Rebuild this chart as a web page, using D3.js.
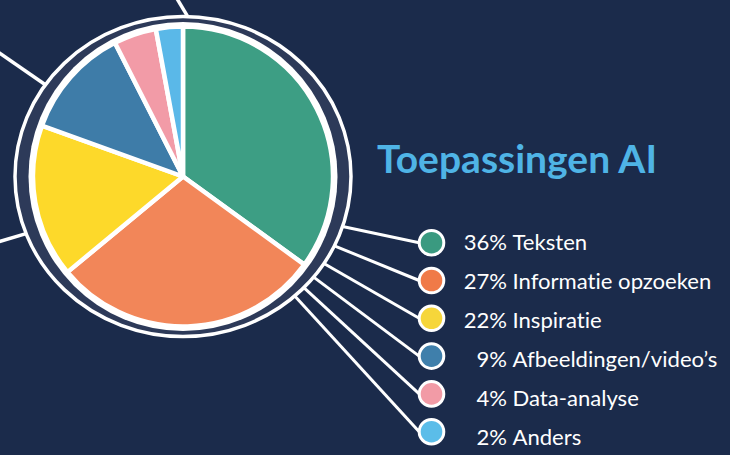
<!DOCTYPE html>
<html>
<head>
<meta charset="utf-8">
<script src="https://cdn.jsdelivr.net/npm/d3@7/dist/d3.min.js"></script>
<style>
  html, body { margin: 0; padding: 0; background: #1b2b4b; }
  svg { display: block; }
  text { font-family: Lato, 'Open Sans', sans-serif; font-variant-ligatures: none; font-feature-settings: "liga" 0, "clig" 0; }
</style>
</head>
<body>
<div id="chart"></div>
<script>
// data
const categories = ['Teksten', 'Informatie opzoeken', 'Inspiratie', 'Afbeeldingen/video’s', 'Data-analyse', 'Anders'];
const percentLabels = [36, 27, 22, 9, 4, 2];
// wedge sizes as they are drawn in the pie (not quite the printed percentages)
const wedgeShares = [35, 29, 16.5, 12, 4.6, 2.9];
const sliceColors = ['#3d9e84', '#f28659', '#fdd92a', '#3e7ca8', '#f29ba7', '#5ab8e8'];
const dotColors = ['#3a9a80', '#f07a48', '#f6d63a', '#3f7fab', '#f29ba6', '#5bbde9'];
const title = 'Toepassingen AI';

const width = 730;
const height = 455;
const cx = 183;
const cy = 176.5;
const pieR = 150;
const ringRx = 168;
const ringRy = 160;

// where the legend connectors leave the ring (degrees below horizontal)
const connectorAngles = [17.4, 24.6, 31.7, 37.6, 42.6, 46.9];

const svg = d3.select('#chart')
  .append('svg')
  .attr('width', width)
  .attr('height', height);

svg.append('rect')
  .attr('width', width)
  .attr('height', height)
  .attr('fill', '#1b2b4b');

const ringPoint = (deg) => {
  const a = deg * Math.PI / 180;
  const r = ringRx * ringRy / Math.sqrt(Math.pow(ringRy * Math.cos(a), 2) + Math.pow(ringRx * Math.sin(a), 2));
  return [cx + r * Math.cos(a), cy + r * Math.sin(a)];
};

// connectors to things outside the crop
const sideLines = [
  { from: [176, -3], deg: -88.3 },
  { from: [-2, 52], deg: -146.3 },
  { from: [-2, 242], deg: 160 }
];
svg.append('g')
  .selectAll('line')
  .data(sideLines)
  .enter()
  .append('line')
  .attr('x1', (d) => d.from[0])
  .attr('y1', (d) => d.from[1])
  .attr('x2', (d) => ringPoint(d.deg)[0])
  .attr('y2', (d) => ringPoint(d.deg)[1])
  .attr('stroke', '#fff')
  .attr('stroke-width', 3.5);

// legend scales
const idx = d3.range(categories.length);
const yDot = d3.scalePoint().domain(idx).range([242.7, 431.7]);
const yText = d3.scalePoint().domain(idx).range([250, 445]);
const dotX = 431.5;
const dotR = 12.3;

svg.append('g')
  .selectAll('line')
  .data(idx)
  .enter()
  .append('line')
  .attr('x1', (i) => ringPoint(connectorAngles[i])[0])
  .attr('y1', (i) => ringPoint(connectorAngles[i])[1])
  .attr('x2', dotX - dotR)
  .attr('y2', (i) => yDot(i))
  .attr('stroke', '#fff')
  .attr('stroke-width', 3);

// ring
svg.append('ellipse')
  .attr('cx', cx)
  .attr('cy', cy)
  .attr('rx', ringRx)
  .attr('ry', ringRy)
  .attr('fill', '#2d3a59')
  .attr('stroke', '#fff')
  .attr('stroke-width', 3.5);

svg.append('circle')
  .attr('cx', cx)
  .attr('cy', cy)
  .attr('r', pieR + 4.5)
  .attr('fill', '#fff');

// pie
const pie = d3.pie().sort(null).value((d) => d);
const arc = d3.arc().innerRadius(0).outerRadius(pieR);

svg.append('g')
  .attr('transform', 'translate(' + cx + ',' + cy + ')')
  .selectAll('path')
  .data(pie(wedgeShares))
  .enter()
  .append('path')
  .attr('d', arc)
  .attr('fill', (d, i) => sliceColors[i])
  .attr('stroke', '#fff')
  .attr('stroke-width', 4.5)
  .attr('stroke-linejoin', 'round');

// legend dots
svg.append('g')
  .selectAll('circle')
  .data(idx)
  .enter()
  .append('circle')
  .attr('cx', dotX)
  .attr('cy', (i) => yDot(i))
  .attr('r', dotR)
  .attr('fill', (i) => dotColors[i])
  .attr('stroke', '#fff')
  .attr('stroke-width', 3);

// size text so it spans a measured width
const fitSize = (txt, weight, target) => {
  const t = svg.append('text')
    .style('font-size', '20px')
    .style('font-weight', weight)
    .text(txt);
  const w = t.node().getComputedTextLength();
  t.remove();
  return 20 * target / w;
};

const legendSize = fitSize('27% Informatie opzoeken', 'normal', 248);

const legend = svg.append('g')
  .style('font-size', legendSize + 'px')
  .attr('fill', '#fff');

legend.selectAll('.pct')
  .data(idx)
  .enter()
  .append('text')
  .attr('class', 'pct')
  .attr('x', 507)
  .attr('y', (i) => yText(i))
  .attr('text-anchor', 'end')
  .text((i) => percentLabels[i] + '%');

legend.selectAll('.cat')
  .data(idx)
  .enter()
  .append('text')
  .attr('class', 'cat')
  .attr('x', 507 + legendSize * 0.25)
  .attr('y', (i) => yText(i))
  .text((i) => categories[i]);

const titleSize = fitSize(title, 'bold', 280);
svg.append('text')
  .attr('x', 377)
  .attr('y', 172.5)
  .style('font-size', titleSize + 'px')
  .style('font-weight', 'bold')
  .attr('fill', '#4fb4e6')
  .text(title);
</script>
</body>
</html>
